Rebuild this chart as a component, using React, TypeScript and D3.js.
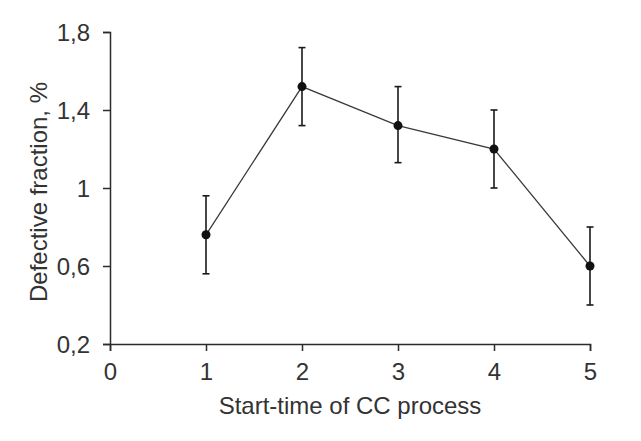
import { useEffect, useRef } from "react";
import * as d3 from "d3";

// start-time of CC process (x) and defective fraction in % (y)
const startTimes = [1, 2, 3, 4, 5];
const defective = [0.76, 1.52, 1.32, 1.2, 0.6];
const errUpper = [0.96, 1.72, 1.52, 1.4, 0.8];
const errLower = [0.56, 1.32, 1.13, 1.0, 0.4];

const xTicks = [0, 1, 2, 3, 4, 5];
const yTicks = [0.2, 0.6, 1, 1.4, 1.8];

const xTitle = "Start-time of CC process";
const yTitle = "Defective fraction, %";

export default function App() {
  const ref = useRef<SVGSVGElement>(null);

  useEffect(() => {
    const svg = d3.select(ref.current);
    svg.selectAll("*").remove();

    const W = 641;
    const H = 441;
    const left = 110, right = 590, top = 32, bottom = 344;

    const x = d3.scaleLinear().domain([0, 5]).range([left, right]);
    const y = d3.scaleLinear().domain([0.2, 1.8]).range([bottom, top]);

    svg.append("rect").attr("width", W).attr("height", H).attr("fill", "#fff");

    const font = "'Liberation Sans', Arial, sans-serif";
    const ink = "#2b2b2b";

    // axes
    const yAxis = svg.append("g")
      .attr("transform", `translate(${left},0)`)
      .call(d3.axisLeft(y).tickValues(yTicks).tickSize(7).tickPadding(13)
        .tickFormat(d => d3.format("")(+d).replace(".", ",")));
    const xAxis = svg.append("g")
      .attr("transform", `translate(0,${bottom})`)
      .call(d3.axisBottom(x).tickValues(xTicks).tickSize(7).tickPadding(12)
        .tickFormat(d3.format("d")));

    for (const g of [xAxis, yAxis]) {
      g.select(".domain").attr("stroke", ink).attr("stroke-width", 1.5);
      g.selectAll(".tick line").attr("stroke", ink).attr("stroke-width", 1.5);
      g.selectAll(".tick text")
        .attr("fill", "#333")
        .style("font-family", font)
        .style("font-size", "24px");
    }
    yAxis.selectAll(".tick text").attr("dy", "0.36em");

    // line
    svg.append("path")
      .datum(startTimes)
      .attr("fill", "none")
      .attr("stroke", "#3a3a3a")
      .attr("stroke-width", 1.3)
      .attr("d", d3.line<number>()
        .x(d => x(d))
        .y((d, i) => y(defective[i])));

    // error bars
    const cap = 3.5;
    const eb = svg.append("g").attr("stroke", "#1a1a1a").attr("stroke-width", 1.6);
    startTimes.forEach((t, i) => {
      const cx = x(t);
      eb.append("line").attr("x1", cx).attr("x2", cx)
        .attr("y1", y(errUpper[i])).attr("y2", y(errLower[i]));
      eb.append("line").attr("x1", cx - cap).attr("x2", cx + cap)
        .attr("y1", y(errUpper[i])).attr("y2", y(errUpper[i]));
      eb.append("line").attr("x1", cx - cap).attr("x2", cx + cap)
        .attr("y1", y(errLower[i])).attr("y2", y(errLower[i]));
    });

    // points
    svg.append("g")
      .selectAll("circle")
      .data(startTimes)
      .join("circle")
      .attr("cx", d => x(d))
      .attr("cy", (d, i) => y(defective[i]))
      .attr("r", 4.5)
      .attr("fill", "#111");

    // titles
    svg.append("text")
      .attr("x", (left + right) / 2)
      .attr("y", 414)
      .attr("text-anchor", "middle")
      .attr("fill", "#333")
      .style("font-family", font)
      .style("font-size", "24px")
      .text(xTitle);

    svg.append("text")
      .attr("transform", `translate(47,192) rotate(-90)`)
      .attr("text-anchor", "middle")
      .attr("fill", "#333")
      .style("font-family", font)
      .style("font-size", "24px")
      .text(yTitle);
  }, []);

  return (
    <svg ref={ref} width={641} height={441}
      style={{ position: "absolute", left: 0, top: 0 }} />
  );
}
